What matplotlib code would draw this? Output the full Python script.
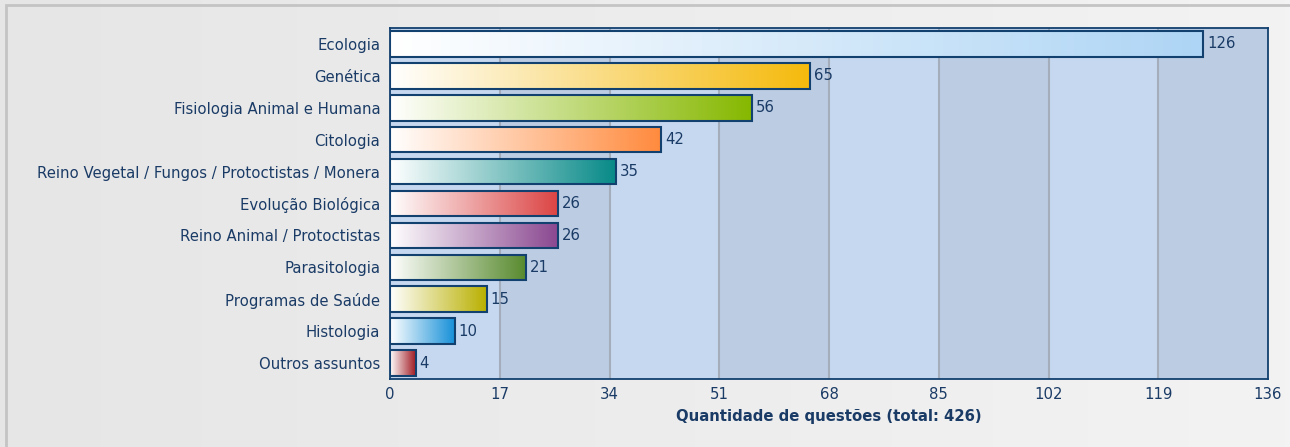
import matplotlib

matplotlib.use("Agg")
import matplotlib.pyplot as plt
import numpy as np
from matplotlib.colors import LinearSegmentedColormap
from matplotlib.patches import Rectangle

NAVY = "#12406f"
TEXT = "#1a3b66"
BAND_LIGHT = "#c6d8ef"
BAND_DARK = "#bccde3"
GRID = "#a3adbb"

categories = [
    "Ecologia",
    "Genética",
    "Fisiologia Animal e Humana",
    "Citologia",
    "Reino Vegetal / Fungos / Protoctistas / Monera",
    "Evolução Biológica",
    "Reino Animal / Protoctistas",
    "Parasitologia",
    "Programas de Saúde",
    "Histologia",
    "Outros assuntos",
]
counts = [126, 65, 56, 42, 35, 26, 26, 21, 15, 10, 4]
bar_colors = [
    "#aed5f5", "#f5ba0c", "#86b800", "#ff8a3d", "#078a88", "#dc4444",
    "#8a4890", "#588a2e", "#b9b000", "#1690d8", "#a01a22",
]
x_ticks = [0, 17, 34, 51, 68, 85, 102, 119, 136]
total = sum(counts)

FS = 10.7

fig = plt.figure(figsize=(12.9, 4.47), dpi=100)

# soft gray page background with a thin frame
bg = fig.add_axes([0, 0, 1, 1], zorder=-10)
grad = np.linspace(0, 1, 256).reshape(1, -1)
bg.imshow(grad, aspect="auto", extent=[0, 1, 0, 1],
          cmap=LinearSegmentedColormap.from_list("bg", ["#e6e6e6", "#f3f3f3"]))
bg.set_xlim(0, 1)
bg.set_ylim(0, 1)
bg.axis("off")
fig.patches.append(Rectangle((6 / 1290, -0.1), 2, 1.1 - 5 / 447, transform=fig.transFigure,
                             fill=False, edgecolor="#c4c4c4", linewidth=2, zorder=-5))

ax = fig.add_axes([390 / 1290, 1 - 379 / 447, 878 / 1290, 351 / 447])

# alternating vertical bands between ticks
for i in range(len(x_ticks) - 1):
    ax.axvspan(x_ticks[i], x_ticks[i + 1], color=BAND_LIGHT if i % 2 == 0 else BAND_DARK,
               linewidth=0, zorder=0)
for t in x_ticks[1:-1]:
    ax.axvline(t, color=GRID, linewidth=1.5, zorder=1)

y = np.arange(len(categories))
bars = ax.barh(y, counts, height=0.8, facecolor="none", edgecolor=NAVY, linewidth=1.5, zorder=4)

for bar, c, v in zip(bars, bar_colors, counts):
    cmap = LinearSegmentedColormap.from_list("g", ["#ffffff", c])
    x0, y0 = bar.get_x(), bar.get_y()
    im = ax.imshow(grad, aspect="auto", cmap=cmap, zorder=3,
                   extent=[x0, x0 + bar.get_width(), y0 + bar.get_height(), y0])
    im.set_clip_path(bar)
    ax.text(v + 0.6, bar.get_y() + bar.get_height() / 2, str(v), va="center", ha="left",
            fontsize=FS, color=TEXT, zorder=5)

ax.set_xlim(0, 136)
ax.set_ylim(len(categories) - 0.5, -0.5)
ax.set_xticks(x_ticks)
ax.set_yticks(y)
ax.set_yticklabels(categories)
ax.tick_params(length=0, labelsize=FS, colors=TEXT)
ax.tick_params(axis="x", pad=6)
ax.tick_params(axis="y", pad=7)
for s in ax.spines.values():
    s.set_color(NAVY)
    s.set_linewidth(1.3)
    s.set_zorder(6)

ax.set_xlabel(f"Quantidade de questões (total: {total})", fontsize=FS, fontweight="bold",
              color=TEXT, labelpad=5)

fig.savefig("out.png", dpi=100)
